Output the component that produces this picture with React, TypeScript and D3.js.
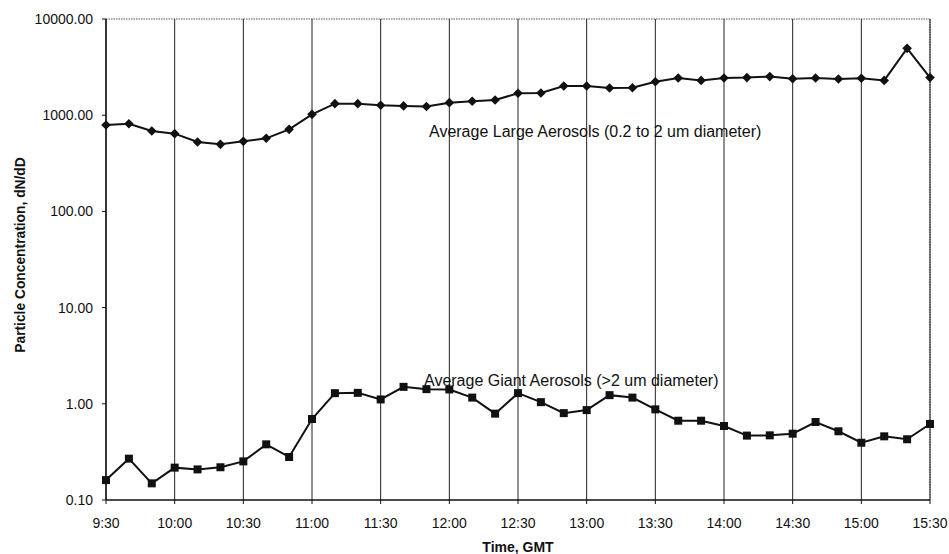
import React from "react";
import * as d3 from "d3";

const times: string[] = [
  "9:30", "9:40", "9:50", "10:00", "10:10", "10:20", "10:30", "10:40", "10:50",
  "11:00", "11:10", "11:20", "11:30", "11:40", "11:50", "12:00", "12:10", "12:20",
  "12:30", "12:40", "12:50", "13:00", "13:10", "13:20", "13:30", "13:40", "13:50",
  "14:00", "14:10", "14:20", "14:30", "14:40", "14:50", "15:00", "15:10", "15:20", "15:30",
];

const largeAerosols: number[] = [
  791, 816, 686, 643, 526, 498, 535, 575, 713,
  1020, 1318, 1318, 1268, 1250, 1230, 1350, 1396, 1440,
  1690, 1700, 2013, 2013, 1920, 1930, 2230, 2437, 2300,
  2437, 2460, 2520, 2390, 2437, 2380, 2420, 2300, 4955, 2460,
];

const giantAerosols: number[] = [
  0.161, 0.269, 0.149, 0.217, 0.208, 0.219, 0.252, 0.379, 0.28,
  0.695, 1.29, 1.3, 1.11, 1.5, 1.42, 1.41, 1.16, 0.79,
  1.29, 1.04, 0.8, 0.86, 1.23, 1.16, 0.875, 0.667, 0.667,
  0.588, 0.467, 0.47, 0.489, 0.647, 0.518, 0.394, 0.459, 0.428, 0.617,
];

const xTickLabels: string[] = [
  "9:30", "10:00", "10:30", "11:00", "11:30", "12:00", "12:30",
  "13:00", "13:30", "14:00", "14:30", "15:00", "15:30",
];

const yTickValues: number[] = [0.1, 1, 10, 100, 1000, 10000];

const largeLabel = "Average Large Aerosols (0.2 to 2 um diameter)";
const giantLabel = "Average Giant Aerosols (>2 um diameter)";
const yTitle = "Particle Concentration, dN/dD";
const xTitle = "Time, GMT";

const toMin = (t: string) => {
  const [h, m] = t.split(":").map(Number);
  return h * 60 + m;
};

export default function App() {
  const W = 949, H = 554;
  const left = 106, right = 930, top = 19, bottom = 500;
  const font = "'Liberation Sans', Arial, sans-serif";

  const x = d3.scaleLinear().domain([toMin("9:30"), toMin("15:30")]).range([left, right]);
  const y = d3.scaleLog().domain([0.1, 10000]).range([bottom, top]);

  const line = d3.line<number>()
    .x((_, i) => x(toMin(times[i])))
    .y((d) => y(d));

  const diamond = (cx: number, cy: number, r: number) =>
    `M${cx},${cy - r}L${cx + r},${cy}L${cx},${cy + r}L${cx - r},${cy}Z`;

  return (
    <svg width={W} height={H} style={{ position: "absolute", left: 0, top: 0, background: "#fff" }}>
      <rect x={0} y={0} width={W} height={H} fill="#fff" />
      {/* frame */}
      <line x1={left} y1={top} x2={right} y2={top} stroke="#555" strokeWidth={1.2} strokeDasharray="1.5,1" />
      <line x1={right} y1={top} x2={right} y2={bottom} stroke="#555" strokeWidth={1.2} strokeDasharray="1.5,1" />
      {/* vertical grid */}
      {xTickLabels.map((t) => (
        <line key={"g" + t} x1={x(toMin(t))} x2={x(toMin(t))} y1={top} y2={bottom} stroke="#222" strokeWidth={1} />
      ))}
      {/* axes */}
      <line x1={left} y1={top} x2={left} y2={bottom} stroke="#111" strokeWidth={1.4} />
      <line x1={left} y1={bottom} x2={right} y2={bottom} stroke="#111" strokeWidth={1.4} />
      {xTickLabels.map((t) => (
        <line key={"t" + t} x1={x(toMin(t))} x2={x(toMin(t))} y1={bottom} y2={bottom + 4} stroke="#111" strokeWidth={1} />
      ))}
      {yTickValues.map((v) => (
        <line key={"yt" + v} x1={left - 4} x2={left} y1={y(v)} y2={y(v)} stroke="#111" strokeWidth={1} />
      ))}
      {/* tick labels */}
      {yTickValues.map((v) => (
        <text key={"yl" + v} x={left - 13} y={y(v)} dy="0.35em" textAnchor="end" fontFamily={font} fontSize={14} fill="#111">
          {v.toFixed(2)}
        </text>
      ))}
      {xTickLabels.map((t) => (
        <text key={"xl" + t} x={x(toMin(t))} y={523} dy="0.35em" textAnchor="middle" fontFamily={font} fontSize={14} fill="#111">
          {t}
        </text>
      ))}
      {/* titles */}
      <text x={518} y={547} dy="0.35em" textAnchor="middle" fontFamily={font} fontSize={14} fontWeight="bold" fill="#111">
        {xTitle}
      </text>
      <text transform={`translate(20,255) rotate(-90)`} dy="0.35em" textAnchor="middle" fontFamily={font} fontSize={13.8} fontWeight="bold" fill="#111">
        {yTitle}
      </text>
      {/* series */}
      <path d={line(largeAerosols) || ""} fill="none" stroke="#111" strokeWidth={2} />
      {largeAerosols.map((v, i) => (
        <path key={"lm" + i} d={diamond(x(toMin(times[i])), y(v), 4.8)} fill="#111" />
      ))}
      <path d={line(giantAerosols) || ""} fill="none" stroke="#111" strokeWidth={2} />
      {giantAerosols.map((v, i) => (
        <rect key={"gm" + i} x={x(toMin(times[i])) - 4} y={y(v) - 4} width={8} height={8} fill="#111" />
      ))}
      {/* series labels */}
      <text x={429} y={131} dy="0.35em" fontFamily={font} fontSize={16} fill="#111">
        {largeLabel}
      </text>
      <text x={424} y={380} dy="0.35em" fontFamily={font} fontSize={16} fill="#111">
        {giantLabel}
      </text>
    </svg>
  );
}
